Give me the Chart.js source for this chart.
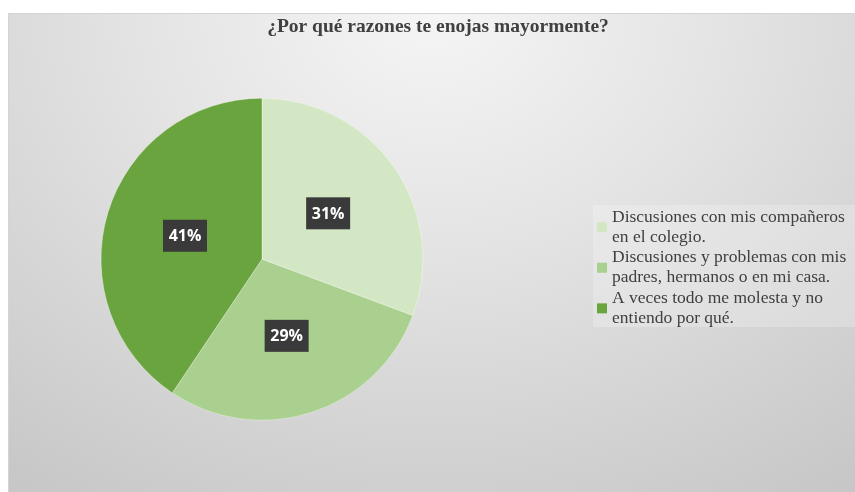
<!DOCTYPE html>
<html>
<head>
<meta charset="utf-8">
<script src="https://cdn.jsdelivr.net/npm/chart.js@4.4.1/dist/chart.umd.min.js"></script>
<style>
  html, body { margin: 0; padding: 0; background: #fff; }
  #wrap {
    position: absolute; left: 8px; top: 13px; width: 847px; height: 479px;
    background: radial-gradient(ellipse 85% 120% at 50% 0%, #f5f5f5 0%, #e4e4e4 40%, #c7c7c7 100%);
    box-shadow: inset 1px 1px 0 #d4d4d4;
  }
</style>
</head>
<body>
<div id="wrap"><canvas id="c" width="847" height="479"></canvas></div>
<script>
var chartTitle = '¿Por qué razones te enojas mayormente?';
var categories = [
  ['Discusiones con mis compañeros', 'en el colegio.'],
  ['Discusiones y problemas con mis', 'padres, hermanos o en mi casa.'],
  ['A veces todo me molesta y no', 'entiendo por qué.']
];
var percents = [31, 29, 41];
var sliceColors = ['#d4e7c5', '#a9d08e', '#6aa43f'];

// legend on the right gets its own layout box, so the pie stays on the left
function drawLegend(chart, box) {
  var ctx = chart.ctx;
  var lineH = 20.3;
  var y = 204;
  ctx.save();
  ctx.fillStyle = 'rgba(255,255,255,0.22)';
  ctx.fillRect(box.left + 90, 192, box.right - box.left - 90, 122);
  ctx.font = '17.5px "Liberation Serif"';
  ctx.textBaseline = 'middle';
  ctx.textAlign = 'left';
  categories.forEach(function (lines, i) {
    var mid = y + (lines.length - 1) * lineH / 2;
    ctx.fillStyle = sliceColors[i];
    ctx.fillRect(box.left + 94, mid - 5, 10, 10);
    ctx.fillStyle = '#404040';
    lines.forEach(function (t) {
      ctx.fillText(t, box.left + 109, y);
      y += lineH;
    });
  });
  ctx.restore();
}

var sideLegend = {
  id: 'sideLegend',
  beforeInit: function (chart) {
    Chart.layouts.addBox(chart, {
      position: 'right', weight: 0, fullSize: false, options: {},
      left: 0, top: 0, right: 0, bottom: 0, width: 0, height: 0,
      isHorizontal: function () { return false; },
      update: function (maxW, maxH) { this.width = 352; this.height = maxH; },
      draw: function () { drawLegend(chart, this); }
    });
  }
};

// dark boxes with the percentage in each slice
var pctBoxes = {
  id: 'pctBoxes',
  afterDatasetsDraw: function (chart) {
    var ctx = chart.ctx;
    ctx.save();
    chart.getDatasetMeta(0).data.forEach(function (arc, i) {
      var p = arc.getProps(['x', 'y', 'startAngle', 'endAngle', 'outerRadius'], true);
      var mid = (p.startAngle + p.endAngle) / 2;
      var cx = p.x + Math.cos(mid) * p.outerRadius * 0.5;
      var cy = p.y + Math.sin(mid) * p.outerRadius * 0.5;
      ctx.fillStyle = '#3a3a3a';
      ctx.fillRect(cx - 22, cy - 16, 44, 32);
      ctx.fillStyle = '#fff';
      ctx.font = 'bold 16px "Open Sans"';
      ctx.textAlign = 'center';
      ctx.textBaseline = 'middle';
      ctx.fillText(percents[i] + '%', cx, cy + 1);
    });
    ctx.restore();
  }
};

new Chart(document.getElementById('c'), {
  type: 'pie',
  data: {
    labels: categories,
    datasets: [{
      data: percents,
      backgroundColor: sliceColors,
      borderColor: 'rgba(255,255,255,0.35)',
      borderWidth: 1,
      radius: 161
    }]
  },
  options: {
    responsive: false,
    animation: false,
    layout: { padding: { left: 13, right: 0, top: 0, bottom: 12 } },
    plugins: {
      legend: { display: false },
      tooltip: { enabled: false },
      title: {
        display: true,
        text: chartTitle,
        color: '#404040',
        font: { family: 'Liberation Serif', size: 19.5, weight: 'bold' },
        padding: { top: 2, bottom: 0 }
      }
    }
  },
  plugins: [sideLegend, pctBoxes]
});
</script>
</body>
</html>
